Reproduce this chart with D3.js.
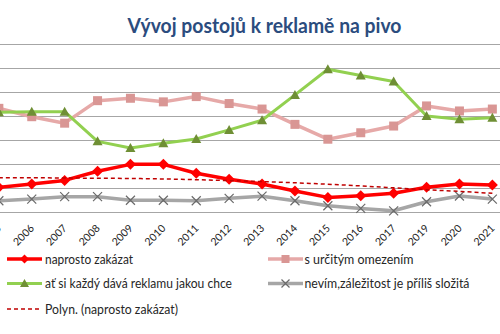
<!DOCTYPE html>
<html><head><meta charset="utf-8">
<script src="https://cdn.jsdelivr.net/npm/d3@7"></script>
<style>body{margin:0;background:#fff;overflow:hidden}svg{display:block}</style>
</head><body>
<script>
const categories = ["2005","2006","2007","2008","2009","2010","2011","2012","2013","2014","2015","2016","2017","2019","2020","2021"];
const zakazat   = [10.3,11.7,13.2,17.0,19.9,19.9,16.2,13.7,11.7,8.8,6.1,6.8,7.8,10.3,11.7,11.3];
const omezeni   = [43.3,39.8,37.1,46.5,47.5,46.0,48.2,45.3,43.0,36.6,30.4,33.1,35.9,44.3,42.2,43.0];
const kazdy     = [41.7,41.9,41.9,29.5,26.7,28.7,30.5,34.3,38.3,48.9,59.6,57.0,54.5,40.1,38.7,39.4];
const nevim     = [4.7,5.4,6.4,6.4,4.9,4.9,4.7,5.7,6.6,4.7,2.6,1.5,0.5,4.3,6.7,5.4];
const trend     = [14.3,14.3,14.2,14.1,14.0,13.8,13.5,13.1,12.7,12.2,11.6,10.9,10.1,9.3,8.6,7.8];
const yTicks    = [0,10,20,30,40,50,60,70];
const title     = "Vývoj postojů k reklamě na pivo";
const names     = ["naprosto zakázat","s určitým omezením","ať si každý dává reklamu jakou chce","nevím,záležitost je příliš složitá","Polyn. (naprosto zakázat)"];

const W=500,H=334;
const svg=d3.select("body").append("svg").attr("width",W).attr("height",H);
const x=d3.scaleBand().domain(categories).range([-17.6,508.8]).padding(0);
const cx=c=>x(c)+x.bandwidth()/2;
const y=d3.scaleLinear().domain([0,70]).range([212,44.4]);

// gridlines
svg.append("g").selectAll("line").data(yTicks).join("line")
  .attr("x1",0).attr("x2",W).attr("y1",d=>Math.round(y(d))+0.5).attr("y2",d=>Math.round(y(d))+0.5)
  .attr("stroke","#a6a6a6").attr("stroke-width",1);

// x axis labels
const xa=d3.axisBottom(x).tickSize(0).tickPadding(0);
const gx=svg.append("g").attr("transform","translate(0,212)").call(xa);
gx.select(".domain").remove();
gx.selectAll("text").attr("font-family","Lato, sans-serif").attr("font-size","10.5px").attr("fill","#222")
  .attr("text-anchor","end").attr("dy",0).attr("y",0)
  .attr("transform","translate(3,17) rotate(-45)");

const FONT="Lato, sans-serif";
const line=d3.line().x((d,i)=>cx(categories[i])).y(d=>y(d));

// markers
function diamond(g,px,py,s,col){g.append("path").attr("d",`M${px},${py-s}L${px+s},${py}L${px},${py+s}L${px-s},${py}Z`).attr("fill",col);}
function square(g,px,py,s,col){g.append("rect").attr("x",px-s).attr("y",py-s).attr("width",2*s).attr("height",2*s).attr("fill",col);}
function tri(g,px,py,s,col){g.append("path").attr("d",`M${px},${py-s}L${px+s},${py+s*0.8}L${px-s},${py+s*0.8}Z`).attr("fill",col);}
function cross(g,px,py,s,col){g.append("path").attr("d",`M${px-s},${py-s}L${px+s},${py+s}M${px-s},${py+s}L${px+s},${py-s}`).attr("stroke",col).attr("stroke-width",1.2).attr("fill","none");}

const series=[
  {data:zakazat,line:"#ff0000",lw:3.5,mk:diamond,mc:"#ff0000",ms:5.5},
  {data:omezeni,line:"#e6a9a8",lw:3.5,mk:square,mc:"#d99694",ms:4.5},
  {data:kazdy,line:"#92d050",lw:3,mk:tri,mc:"#6f8f35",ms:5},
  {data:nevim,line:"#a6a6a6",lw:3.5,mk:cross,mc:"#6a6a6a",ms:4.5}
];
series.forEach(s=>{
  const g=svg.append("g");
  g.append("path").datum(s.data).attr("d",line).attr("fill","none").attr("stroke",s.line).attr("stroke-width",s.lw).attr("stroke-linejoin","round");
  s.data.forEach((v,i)=>s.mk(g,cx(categories[i]),y(v),s.ms,s.mc));
});
// trendline
svg.append("path").datum(trend).attr("d",line.curve(d3.curveMonotoneX)).attr("fill","none")
  .attr("stroke","#c00000").attr("stroke-width",1.5).attr("stroke-dasharray","4,3");

// title
svg.append("text").attr("x",127.5).attr("y",32.5).text(title)
  .attr("font-family",FONT).attr("font-weight","bold").attr("font-size","21px").attr("fill","#2b4c7e")
  .attr("textLength",274).attr("lengthAdjust","spacingAndGlyphs");

// legend
const lg=svg.append("g").attr("font-family",FONT).attr("font-size","13px").attr("fill","#262626");
const items=[
  {x:7,tx:45,y:259,name:names[0],col:"#ff0000",lw:3.5,mk:diamond,mc:"#ff0000",ms:4.5,w:88},
  {x:7,tx:45,y:283.5,name:names[2],col:"#92d050",lw:3,mk:tri,mc:"#6f8f35",ms:4.5,w:187},
  {x:7,tx:45,y:309,name:names[4],col:"#c00000",lw:1.5,dash:"4,3",w:133},
  {x:268,tx:304.5,y:259,name:names[1],col:"#e6a9a8",lw:3.5,mk:square,mc:"#d99694",ms:4,w:109},
  {x:268,tx:304.5,y:283.5,name:names[3],col:"#a6a6a6",lw:3.5,mk:cross,mc:"#6a6a6a",ms:4,w:165}
];
items.forEach(it=>{
  const g=lg.append("g");
  g.append("line").attr("x1",it.x).attr("x2",it.x+35).attr("y1",it.y).attr("y2",it.y)
    .attr("stroke",it.col).attr("stroke-width",it.lw).attr("stroke-dasharray",it.dash||null);
  if(it.mk) it.mk(g,it.x+17.5,it.y,it.ms,it.mc);
  g.append("text").attr("x",it.tx).attr("y",it.y).attr("dy","0.35em").text(it.name)
    .attr("textLength",it.w).attr("lengthAdjust","spacingAndGlyphs");
});
</script>
</body></html>
